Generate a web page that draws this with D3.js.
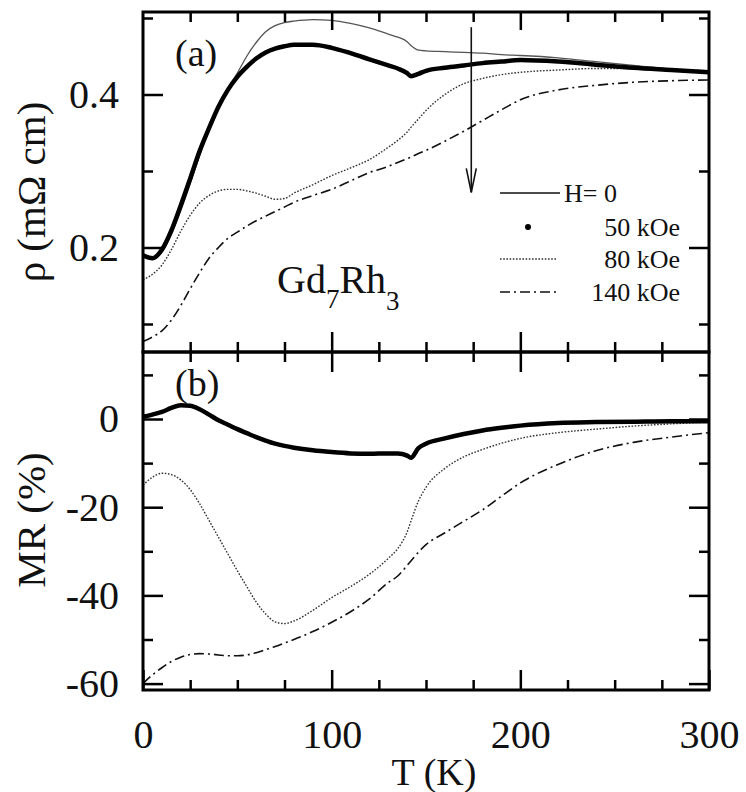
<!DOCTYPE html>
<html>
<head>
<meta charset="utf-8">
<script src="https://cdn.jsdelivr.net/npm/d3@7"></script>
<style>
  body { margin: 0; background: #fff; }
  svg { display: block; }
</style>
</head>
<body>
<svg width="746" height="792"></svg>
<script>
// temperatures (K) shared by every curve
var temps = [0, 5, 10, 15, 20, 25, 30, 35, 40, 45, 50, 55, 60, 65, 70, 75, 80, 90, 100, 110, 120,
  130, 135, 140, 142, 146, 150, 160, 170, 180, 190, 200, 220, 240, 260, 280, 300];

// resistivity, mOhm cm  (panel a)
var rhoH0 = [0.190, 0.185, 0.194, 0.217, 0.248, 0.283, 0.320, 0.353, 0.385, 0.408, 0.428, 0.450, 0.468, 0.482, 0.490, 0.494, 0.496, 0.498, 0.497, 0.493, 0.487,
  0.479, 0.475, 0.469, 0.464, 0.458, 0.457, 0.456, 0.455, 0.454, 0.452, 0.451, 0.448, 0.443, 0.438, 0.433, 0.429];
var rho50 = [0.190, 0.186, 0.197, 0.222, 0.255, 0.290, 0.326, 0.356, 0.384, 0.406, 0.423, 0.436, 0.447, 0.455, 0.460, 0.463, 0.465, 0.465, 0.461, 0.454, 0.446,
  0.438, 0.434, 0.428, 0.424, 0.427, 0.431, 0.435, 0.438, 0.441, 0.443, 0.445, 0.443, 0.439, 0.435, 0.432, 0.429];
var rho80 = [0.158, 0.165, 0.177, 0.197, 0.221, 0.242, 0.258, 0.268, 0.274, 0.276, 0.276, 0.274, 0.271, 0.267, 0.263, 0.264, 0.271, 0.282, 0.294, 0.304, 0.315,
  0.331, 0.340, 0.351, 0.357, 0.368, 0.379, 0.400, 0.414, 0.421, 0.426, 0.429, 0.432, 0.434, 0.434, 0.433, 0.431];
var rho140 = [0.077, 0.083, 0.091, 0.105, 0.124, 0.146, 0.167, 0.186, 0.200, 0.212, 0.220, 0.228, 0.235, 0.241, 0.247, 0.253, 0.259, 0.268, 0.276, 0.287, 0.298,
  0.306, 0.311, 0.316, 0.318, 0.323, 0.327, 0.339, 0.352, 0.366, 0.380, 0.393, 0.406, 0.412, 0.416, 0.418, 0.419];

// magnetoresistance, %  (panel b)
var mr50 = [0.5, 1.0, 1.6, 2.5, 3.1, 3.0, 2.2, 1.0, -0.3, -1.3, -2.3, -3.2, -4.1, -4.9, -5.6, -6.1, -6.5, -7.1, -7.5, -7.8, -7.9,
  -7.8, -7.8, -8.3, -8.8, -6.6, -5.6, -4.4, -3.4, -2.6, -2.0, -1.5, -0.9, -0.7, -0.6, -0.5, -0.5];
var mr80 = [-15.0, -13.2, -12.3, -12.6, -13.8, -16.0, -19.2, -23.0, -26.8, -30.6, -34.4, -38.0, -41.5, -44.2, -46.0, -46.4, -45.8, -43.4, -40.5, -38.0, -35.2,
  -31.6, -29.4, -25.6, -23.2, -18.6, -15.5, -11.2, -8.6, -6.9, -5.5, -4.4, -3.1, -2.3, -1.6, -1.1, -0.7];
var mr140 = [-60.0, -58.0, -56.4, -55.0, -54.0, -53.4, -53.2, -53.3, -53.5, -53.7, -53.7, -53.5, -53.0, -52.3, -51.6, -50.8, -50.0, -48.2, -46.1, -43.7, -40.8,
  -37.1, -35.6, -33.2, -32.2, -30.2, -28.5, -25.8, -23.2, -20.6, -17.5, -14.5, -10.3, -7.2, -5.3, -4.1, -3.1];

var legendLabels = ["H= 0", "50 kOe", "80 kOe", "140 kOe"];
var xTicks = [0, 100, 200, 300];
var rhoTicks = [0.2, 0.4];
var mrTicks = [0, -20, -40, -60];

var serif = '"Liberation Serif", "Tinos", "Times New Roman", "DejaVu Serif", serif';
var svg = d3.select('svg').attr('font-family', serif);
var padL = 143, padR = 709, padT = 12, padM = 352, padB = 690;

var x = d3.scaleLinear().domain([0, 300]).range([padL, padR]);
var yA = d3.scaleLinear().domain([0.1, 0.5]).range([324, 18]);
var yB = d3.scaleLinear().domain([-60, 0]).range([683.6, 419]);

// styles per field
var styles = {
  h0: { width: 1.3, dash: null, color: '#555' },
  h50: { width: 4.5, dash: null, color: '#000' },
  h80: { width: 1.4, dash: '1.6,1.6', color: '#333' },
  h140: { width: 1.6, dash: '10,4,2,4', color: '#111' }
};

var drawCurve = function(g, yScale, values, st) {
  var line = d3.line()
    .x(function(d, i) { return x(temps[i]); })
    .y(function(d) { return yScale(d); })
    .curve(d3.curveMonotoneX);
  g.append('path')
    .datum(values)
    .attr('d', line)
    .attr('fill', 'none')
    .attr('stroke', st.color)
    .attr('stroke-width', st.width)
    .attr('stroke-dasharray', st.dash)
    .attr('stroke-linejoin', 'round');
};

var curves = svg.append('g');
drawCurve(curves, yA, rho140, styles.h140);
drawCurve(curves, yA, rho80, styles.h80);
drawCurve(curves, yA, rhoH0, styles.h0);
drawCurve(curves, yA, rho50, styles.h50);
drawCurve(curves, yB, mr140, styles.h140);
drawCurve(curves, yB, mr80, styles.h80);
drawCurve(curves, yB, mr50, styles.h50);

// ticks (all inward)
var axes = svg.append('g');
var addAxis = function(axis, tx, ty) {
  var g = axes.append('g').attr('transform', 'translate(' + tx + ',' + ty + ')').call(axis);
  g.select('.domain').remove();
  g.attr('font-family', serif).attr('font-size', 40);
  g.selectAll('line').attr('stroke', '#000').attr('stroke-width', 2.5);
  g.selectAll('text').style('font-family', serif).style('font-size', '40px').attr('fill', '#111');
  return g;
};
var plain = function(d) { return String(d); };
var xMinor = [25, 50, 75, 125, 150, 175, 225, 250, 275];
var xMajor = [100, 200];

// panel a
addAxis(d3.axisLeft(yA).tickValues(rhoTicks).tickSize(-20).tickPadding(24).tickFormat(d3.format('.1f')), padL, 0);
addAxis(d3.axisLeft(yA).tickValues([0.1, 0.3, 0.5]).tickSize(-10).tickFormat(''), padL, 0);
addAxis(d3.axisRight(yA).tickValues(rhoTicks).tickSize(-20).tickFormat(''), padR, 0);
addAxis(d3.axisRight(yA).tickValues([0.1, 0.3, 0.5]).tickSize(-10).tickFormat(''), padR, 0);
addAxis(d3.axisTop(x).tickValues(xMajor).tickSize(-18).tickFormat(''), 0, padT);
addAxis(d3.axisTop(x).tickValues(xMinor).tickSize(-10).tickFormat(''), 0, padT);
addAxis(d3.axisBottom(x).tickValues(xMajor).tickSize(-20).tickFormat(''), 0, padM);
addAxis(d3.axisBottom(x).tickValues(xMinor).tickSize(-10).tickFormat(''), 0, padM);

// panel b
addAxis(d3.axisLeft(yB).tickValues(mrTicks).tickSize(-20).tickPadding(24).tickFormat(plain), padL, 0);
addAxis(d3.axisLeft(yB).tickValues([10, -10, -30, -50]).tickSize(-10).tickFormat(''), padL, 0);
addAxis(d3.axisRight(yB).tickValues(mrTicks).tickSize(-20).tickFormat(''), padR, 0);
addAxis(d3.axisRight(yB).tickValues([10, -10, -30, -50]).tickSize(-10).tickFormat(''), padR, 0);
addAxis(d3.axisTop(x).tickValues(xMajor).tickSize(-20).tickFormat(''), 0, padM);
addAxis(d3.axisTop(x).tickValues(xMinor).tickSize(-10).tickFormat(''), 0, padM);
addAxis(d3.axisBottom(x).tickValues(xTicks).tickSize(-20).tickPadding(30).tickFormat(plain), 0, padB);
addAxis(d3.axisBottom(x).tickValues(xMinor).tickSize(-10).tickFormat(''), 0, padB);

// frames
svg.append('rect').attr('x', padL).attr('y', padT).attr('width', padR - padL).attr('height', padM - padT)
  .attr('fill', 'none').attr('stroke', '#000').attr('stroke-width', 3);
svg.append('rect').attr('x', padL).attr('y', padM).attr('width', padR - padL).attr('height', padB - padM)
  .attr('fill', 'none').attr('stroke', '#000').attr('stroke-width', 3);

var addText = function(sel, size) {
  return sel.append('text').style('font-family', serif).style('font-size', size + 'px').attr('fill', '#111');
};

// axis titles
addText(svg, 41).attr('transform', 'translate(45,192) rotate(-90)')
  .attr('text-anchor', 'middle').text('ρ (mΩ cm)');
addText(svg, 41).attr('transform', 'translate(45,520) rotate(-90)')
  .attr('text-anchor', 'middle').text('MR (%)');
addText(svg, 38).attr('x', 434).attr('y', 785)
  .attr('text-anchor', 'middle').text('T (K)');

// panel letters
addText(svg, 38).attr('x', 175).attr('y', 66).text('(a)');
addText(svg, 38).attr('x', 175).attr('y', 396).text('(b)');

// compound name
var compound = addText(svg, 40).attr('x', 277).attr('y', 293);
compound.append('tspan').text('Gd');
compound.append('tspan').attr('dy', 15).style('font-size', '27px').text('7');
compound.append('tspan').attr('dy', -15).text('Rh');
compound.append('tspan').attr('dy', 17).style('font-size', '27px').text('3');

// arrow showing increasing field
var arrowT = 174;
var ax = x(arrowT), ay0 = yA(0.488), ay1 = yA(0.272);
svg.append('line').attr('x1', ax).attr('y1', ay0).attr('x2', ax).attr('y2', ay1)
  .attr('stroke', '#111').attr('stroke-width', 1.6);
svg.append('path')
  .attr('d', 'M' + (ax - 5) + ',' + (ay1 - 24) + 'L' + ax + ',' + ay1 + 'L' + (ax + 5) + ',' + (ay1 - 24))
  .attr('fill', 'none').attr('stroke', '#111').attr('stroke-width', 1.6);

// legend
var legend = svg.append('g');
var legY = [193, 227, 259, 292];
var legStyles = [styles.h0, null, styles.h80, styles.h140];
legendLabels.forEach(function(lbl, i) {
  if (legStyles[i]) {
    legend.append('line').attr('x1', 500).attr('x2', i === 0 ? 560 : 557)
      .attr('y1', legY[i]).attr('y2', legY[i])
      .attr('stroke', i === 0 ? '#111' : legStyles[i].color)
      .attr('stroke-width', i === 0 ? 1.6 : legStyles[i].width)
      .attr('stroke-dasharray', legStyles[i].dash);
  } else {
    legend.append('circle').attr('cx', 528).attr('cy', legY[i]).attr('r', 3).attr('fill', '#000');
  }
  var t = addText(legend, 26).attr('y', legY[i]).attr('dy', '0.35em').text(lbl);
  if (i === 0) t.attr('x', 564);
  else t.attr('x', 680).attr('text-anchor', 'end');
});
</script>
</body>
</html>
